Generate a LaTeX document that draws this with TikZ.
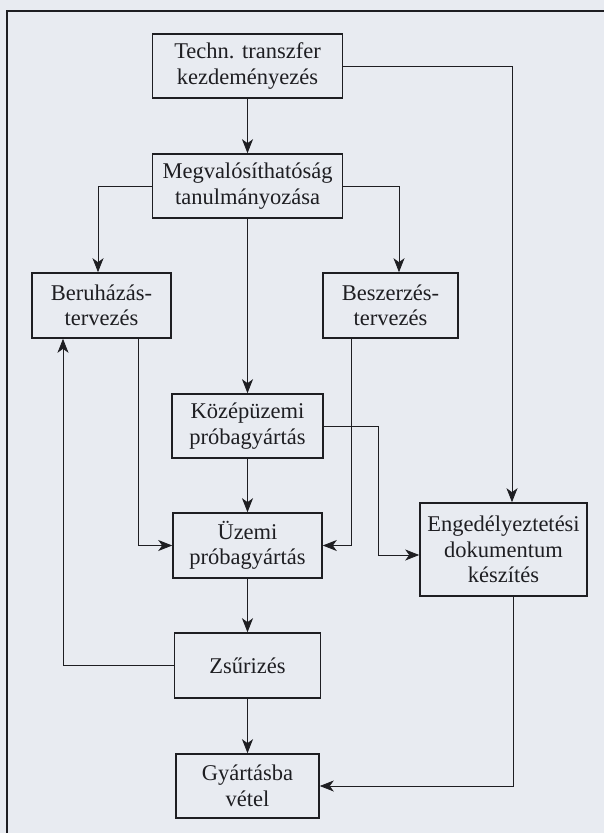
\documentclass[tikz,border=0pt]{standalone}
\usepackage{fontspec}
\setmainfont{Liberation Serif}
\usetikzlibrary{arrows.meta}
\definecolor{bg}{RGB}{232,235,241}
\definecolor{ink}{RGB}{30,30,34}
\begin{document}
\begin{tikzpicture}[x=1pt,y=-1pt,
  box/.style={draw=ink,line width=1.6pt,text=ink,align=center,inner sep=0pt,
              font=\fontsize{22.5}{25.5}\selectfont},
  conn/.style={draw=ink,line width=0.8pt,-{Stealth[length=14pt,width=11pt,inset=4pt]}},
  frameline/.style={draw=ink,line width=1.3pt}]
\fill[bg] (0,0) rectangle (604,833);
\useasboundingbox (0,0) rectangle (604,833);
\draw[frameline] (7,833) -- (7,11) -- (604,11);

\node[box,minimum width=190pt,minimum height=64pt] (b1) at (247.5,66) {Techn. transzfer\\kezdeményezés};
\node[box,minimum width=190pt,minimum height=64pt] (b2) at (247.5,186) {Megvalósíthatóság\\tanulmányozása};
\node[box,minimum width=139pt,minimum height=65pt] (b3) at (101.5,305.5) {Beruházás-\\tervezés};
\node[box,minimum width=135pt,minimum height=65pt] (b4) at (390.5,305.5) {Beszerzés-\\tervezés};
\node[box,minimum width=151pt,minimum height=64pt] (b5) at (247.5,426) {Középüzemi\\próbagyártás};
\node[box,minimum width=149pt,minimum height=65pt] (b6) at (247.5,545.5) {Üzemi\\próbagyártás};
\node[box,minimum width=167pt,minimum height=93pt] (b7) at (503.5,549.5) {Engedélyeztetési\\dokumentum\\készítés};
\node[box,minimum width=146pt,minimum height=65pt] (b8) at (247.5,665.5) {Zsűrizés};
\node[box,minimum width=143pt,minimum height=64pt] (b9) at (247.5,786) {Gyártásba\\vétel};

\draw[conn] (b1.south) -- (b2.north);
\draw[conn] (b1.east) -| ([xshift=8.5pt]b7.north);
\draw[conn] (b2.west) -| ([xshift=-3.5pt]b3.north);
\draw[conn] (b2.east) -| ([xshift=8.5pt]b4.north);
\draw[conn] (b2.south) -- (b5.north);
\draw[conn] ([xshift=36.5pt]b3.south) |- (b6.west);
\draw[conn] ([xshift=-39.5pt]b4.south) |- (b6.east);
\draw[conn] (b5.east) -- ++(55,0) |- ([yshift=-5.5pt]b7.west);
\draw[conn] (b5.south) -- (b6.north);
\draw[conn] (b6.south) -- (b8.north);
\draw[conn] (b8.west) -| ([xshift=-38.5pt]b3.south);
\draw[conn] (b8.south) -- (b9.north);
\draw[conn] ([xshift=9.5pt]b7.south) |- (b9.east);
\end{tikzpicture}
\end{document}
